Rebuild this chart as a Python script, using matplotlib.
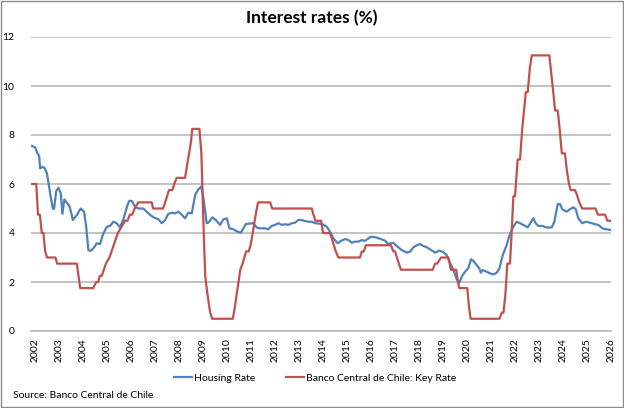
import matplotlib
matplotlib.use("Agg")
import matplotlib.pyplot as plt
from matplotlib.patches import Rectangle

plt.rcParams['font.family'] = ['Lato', 'DejaVu Sans']

# Housing rate (decimal year, %)
housing_years = [2001.86, 2002.00, 2002.10, 2002.17, 2002.21, 2002.32, 2002.40, 2002.49, 2002.55, 2002.65,
                 2002.74, 2002.79, 2002.88, 2002.97, 2003.07, 2003.14, 2003.22, 2003.35, 2003.43, 2003.53,
                 2003.57, 2003.74, 2003.90, 2004.04, 2004.13, 2004.22, 2004.32, 2004.46, 2004.57, 2004.71,
                 2004.82, 2004.99, 2005.13, 2005.26, 2005.40, 2005.54, 2005.68, 2005.85, 2005.93, 2006.04,
                 2006.17, 2006.30, 2006.51, 2006.72, 2006.93, 2007.14, 2007.28, 2007.42, 2007.55, 2007.70,
                 2007.83, 2007.97, 2008.11, 2008.25, 2008.39, 2008.53, 2008.67, 2008.80, 2008.92, 2009.01,
                 2009.15, 2009.22, 2009.39, 2009.53, 2009.71, 2009.85, 2009.99, 2010.10, 2010.26, 2010.43,
                 2010.57, 2010.68, 2010.79, 2011.10, 2011.24, 2011.38, 2011.58, 2011.72, 2011.86, 2012.00,
                 2012.14, 2012.28, 2012.42, 2012.55, 2012.70, 2012.83, 2012.97, 2013.11, 2013.25, 2013.39,
                 2013.53, 2013.67, 2013.95, 2014.15, 2014.29, 2014.43, 2014.61, 2014.75, 2014.92, 2015.05,
                 2015.20, 2015.33, 2015.47, 2015.61, 2015.75, 2015.89, 2016.00, 2016.17, 2016.45, 2016.58,
                 2016.72, 2016.83, 2016.93, 2017.07, 2017.28, 2017.49, 2017.63, 2017.76, 2017.90, 2018.04,
                 2018.18, 2018.32, 2018.46, 2018.67, 2018.85, 2019.01, 2019.15, 2019.29, 2019.43, 2019.57,
                 2019.68, 2019.78, 2019.92, 2020.05, 2020.17, 2020.29, 2020.40, 2020.51, 2020.58, 2020.65,
                 2020.82, 2020.96, 2021.10, 2021.24, 2021.35, 2021.49, 2021.65, 2021.79, 2021.93, 2022.07,
                 2022.21, 2022.35, 2022.53, 2022.67, 2022.76, 2022.86, 2022.97, 2023.14, 2023.32, 2023.53,
                 2023.64, 2023.78, 2023.88, 2023.97, 2024.15, 2024.29, 2024.43, 2024.53, 2024.64, 2024.80,
                 2024.95, 2025.13, 2025.30, 2025.47, 2025.64, 2025.82, 2026.00]
housing_values = [7.55, 7.50, 7.25, 7.15, 6.64, 6.70, 6.65, 6.45, 6.10, 5.48,
                  5.00, 4.98, 5.70, 5.85, 5.62, 4.78, 5.37, 5.20, 5.10, 4.73,
                  4.53, 4.73, 5.00, 4.87, 4.26, 3.30, 3.27, 3.41, 3.58, 3.55,
                  3.92, 4.26, 4.29, 4.46, 4.40, 4.23, 4.56, 5.14, 5.32, 5.30,
                  5.07, 5.00, 5.00, 4.80, 4.64, 4.56, 4.40, 4.53, 4.78, 4.83,
                  4.80, 4.87, 4.75, 4.60, 4.83, 4.80, 5.55, 5.78, 5.89, 5.48,
                  4.40, 4.42, 4.64, 4.53, 4.33, 4.56, 4.60, 4.19, 4.15, 4.06,
                  4.01, 4.19, 4.37, 4.40, 4.22, 4.19, 4.19, 4.15, 4.29, 4.33,
                  4.40, 4.33, 4.36, 4.33, 4.40, 4.42, 4.53, 4.53, 4.49, 4.46,
                  4.46, 4.40, 4.37, 4.26, 4.06, 3.78, 3.58, 3.68, 3.75, 3.72,
                  3.60, 3.65, 3.65, 3.71, 3.68, 3.78, 3.85, 3.83, 3.74, 3.69,
                  3.55, 3.58, 3.60, 3.47, 3.30, 3.20, 3.24, 3.41, 3.50, 3.55,
                  3.47, 3.42, 3.33, 3.20, 3.28, 3.22, 3.10, 2.79, 2.49, 2.11,
                  1.97, 2.22, 2.42, 2.56, 2.93, 2.83, 2.69, 2.56, 2.38, 2.49,
                  2.42, 2.35, 2.31, 2.38, 2.56, 3.10, 3.50, 3.96, 4.26, 4.46,
                  4.40, 4.33, 4.23, 4.46, 4.60, 4.40, 4.29, 4.29, 4.22, 4.23,
                  4.46, 5.18, 5.18, 4.97, 4.87, 4.97, 5.05, 4.97, 4.60, 4.40,
                  4.46, 4.42, 4.37, 4.33, 4.19, 4.15, 4.12]

# Banco Central de Chile key rate (decimal year, %)
key_years = [2001.87, 2002.05, 2002.12, 2002.20, 2002.28, 2002.35, 2002.42, 2002.50, 2002.85, 2002.92,
             2003.74, 2003.88, 2004.42, 2004.55, 2004.63, 2004.70, 2004.78, 2004.95, 2005.10, 2005.45,
             2005.75, 2005.85, 2005.95, 2006.05, 2006.15, 2006.30, 2006.86, 2006.92, 2007.33, 2007.42,
             2007.50, 2007.58, 2007.72, 2007.80, 2007.90, 2008.25, 2008.33, 2008.42, 2008.50, 2008.55,
             2008.85, 2008.93, 2009.02, 2009.09, 2009.15, 2009.22, 2009.30, 2009.38, 2010.24, 2010.33,
             2010.40, 2010.48, 2010.55, 2010.65, 2010.72, 2010.80, 2010.90, 2010.98, 2011.07, 2011.15,
             2011.24, 2011.30, 2011.80, 2011.88, 2013.53, 2013.60, 2013.68, 2013.92, 2013.96, 2014.00,
             2014.29, 2014.37, 2014.45, 2014.53, 2014.64, 2015.54, 2015.62, 2015.70, 2015.78, 2016.83,
             2016.93, 2017.00, 2017.08, 2017.16, 2017.25, 2018.57, 2018.67, 2018.75, 2018.92, 2019.22,
             2019.33, 2019.55, 2019.62, 2019.68, 2020.01, 2020.08, 2020.15, 2021.35, 2021.45, 2021.52,
             2021.60, 2021.68, 2021.79, 2021.86, 2021.93, 2022.00, 2022.11, 2022.21, 2022.30, 2022.45,
             2022.53, 2022.62, 2022.70, 2023.43, 2023.54, 2023.62, 2023.67, 2023.78, 2023.86, 2023.95,
             2024.08, 2024.17, 2024.25, 2024.32, 2024.50, 2024.60, 2024.68, 2024.80, 2025.36, 2025.45,
             2025.75, 2025.85, 2026.00]
key_values = [6.00, 6.00, 4.75, 4.75, 4.00, 4.00, 3.25, 3.00, 3.00, 2.75,
              2.75, 1.75, 1.75, 2.00, 2.00, 2.25, 2.25, 2.75, 3.00, 4.00,
              4.50, 4.50, 4.75, 4.75, 5.00, 5.25, 5.25, 5.00, 5.00, 5.25,
              5.50, 5.75, 5.75, 6.00, 6.25, 6.25, 6.75, 7.25, 7.75, 8.25,
              8.25, 7.25, 4.25, 2.25, 1.75, 1.25, 0.75, 0.50, 0.50, 1.00,
              1.50, 2.00, 2.50, 2.75, 3.00, 3.25, 3.25, 3.50, 4.00, 4.50,
              5.00, 5.25, 5.25, 5.00, 5.00, 4.75, 4.50, 4.50, 4.25, 4.00,
              4.00, 3.75, 3.50, 3.25, 3.00, 3.00, 3.25, 3.25, 3.50, 3.50,
              3.25, 3.25, 3.00, 2.75, 2.50, 2.50, 2.75, 2.75, 3.00, 3.00,
              2.50, 2.50, 2.00, 1.75, 1.75, 1.00, 0.50, 0.50, 0.75, 0.75,
              1.50, 2.75, 2.75, 4.00, 5.50, 5.50, 7.00, 7.00, 8.25, 9.75,
              9.75, 10.75, 11.25, 11.25, 10.25, 9.50, 9.00, 9.00, 8.25, 7.25,
              7.25, 6.50, 6.00, 5.75, 5.75, 5.50, 5.25, 5.00, 5.00, 4.75,
              4.75, 4.50, 4.50]

year_ticks = list(range(2002, 2027))
y_ticks = [0, 2, 4, 6, 8, 10, 12]

fig = plt.figure(figsize=(6.24, 4.08), dpi=100)
ax = fig.add_axes([31 / 624, 77 / 408, 580 / 624, 294 / 408])

ax.plot(housing_years, housing_values, color='#4F81BD', lw=1.6, label='Housing Rate')
ax.plot(key_years, key_values, color='#C0504D', lw=1.6, label='Banco Central de Chile: Key Rate')

ax.set_xlim(2001.83, 2026.0)
ax.set_ylim(0, 12)
ax.set_yticks(y_ticks)
ax.set_xticks(year_ticks)
ax.set_xticklabels([str(y) for y in year_ticks], rotation=90, fontsize=7.5)
ax.tick_params(axis='y', length=0, pad=12, labelsize=7.5)
ax.tick_params(axis='x', length=0, pad=5)
ax.grid(axis='y', color='#BEBEBE', lw=1.3)
ax.set_axisbelow(True)
for s in ['top', 'right', 'left']:
    ax.spines[s].set_visible(False)
ax.spines['bottom'].set_color('#BEBEBE')
ax.spines['bottom'].set_linewidth(1.3)

fig.text(0.5, 1 - 18 / 408, 'Interest rates (%)', ha='center', va='center',
         fontsize=12.5, fontweight='bold')
fig.legend(loc='center', bbox_to_anchor=(0.505, 30 / 408), ncol=2, frameon=False,
           fontsize=7.5, handlelength=1.7, handletextpad=0.2, columnspacing=3.0)
fig.text(13 / 624, 12 / 408, 'Source: Banco Central de Chile', ha='left', va='center', fontsize=7.5)

fig.patches.append(Rectangle((0.001, 0.002), 0.997, 0.996, transform=fig.transFigure,
                             fill=False, ec='#8C8C8C', lw=1))

fig.savefig('out.png', dpi=100)
